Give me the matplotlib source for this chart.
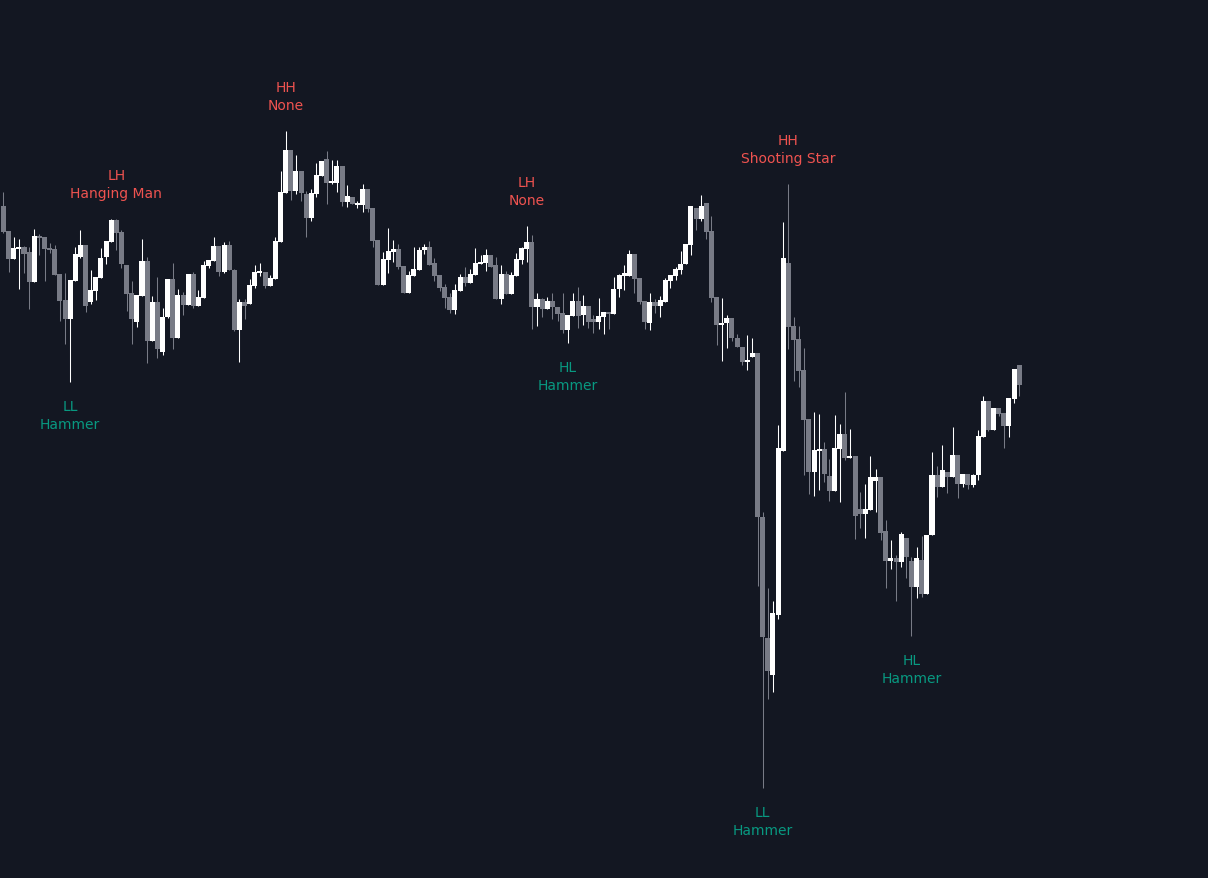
import matplotlib
matplotlib.use("Agg")
import matplotlib.pyplot as plt
import numpy as np

# OHLC, one entry per bar
opens = [794, 769, 741, 751, 753, 748, 718, 764, 763, 752, 751, 726, 700, 681, 719, 743, 755, 698, 709, 722,
         743, 758, 780, 768, 735, 707, 678, 704, 739, 659, 698, 648, 683, 721, 662, 705, 695, 726, 694, 702,
         734, 739, 754, 728, 755, 730, 670, 698, 696, 714, 727, 728, 714, 721, 758, 807, 850, 809, 829, 806,
         782, 806, 824, 841, 817, 817, 834, 798, 803, 795, 795, 811, 792, 760, 715, 740, 748, 751, 734, 707,
         724, 730, 750, 753, 737, 725, 713, 703, 690, 709, 723, 717, 725, 736, 737, 745, 735, 701, 726, 706,
         724, 740, 751, 758, 693, 701, 691, 699, 693, 687, 670, 684, 699, 685, 694, 681, 678, 683, 688, 686,
         711, 724, 724, 746, 722, 699, 677, 698, 694, 698, 719, 724, 730, 736, 755, 792, 781, 797, 769, 703,
         675, 677, 682, 662, 653, 638, 643, 647, 483, 362, 325, 385, 549, 737, 674, 661, 630, 581, 528, 549,
         551, 524, 509, 551, 566, 542, 544, 491, 486, 490, 519, 523, 469, 439, 442, 438, 462, 439, 413, 440,
         406, 465, 525, 513, 528, 523, 545, 516, 526, 515, 525, 563, 599, 570, 592, 587, 574, 601, 635]
highs = [808, 769, 763, 761, 754, 753, 771, 766, 763, 757, 755, 726, 727, 720, 753, 770, 755, 730, 723, 752,
         759, 781, 781, 770, 735, 719, 705, 761, 743, 704, 723, 692, 721, 737, 711, 708, 726, 728, 710, 739,
         740, 763, 754, 758, 759, 731, 701, 701, 721, 735, 737, 728, 725, 763, 829, 869, 850, 845, 829, 809,
         811, 837, 839, 849, 840, 840, 834, 815, 803, 799, 816, 811, 792, 760, 748, 772, 760, 756, 734, 729,
         753, 753, 756, 759, 742, 725, 716, 707, 716, 726, 733, 731, 752, 745, 751, 745, 743, 735, 729, 728,
         747, 753, 774, 765, 707, 702, 703, 707, 693, 707, 685, 707, 713, 705, 694, 685, 702, 688, 688, 723,
         726, 735, 750, 746, 722, 699, 707, 701, 704, 722, 725, 733, 749, 756, 794, 792, 805, 797, 784, 703,
         702, 685, 682, 666, 653, 665, 662, 647, 488, 412, 399, 575, 778, 816, 683, 674, 652, 581, 588, 586,
         558, 541, 585, 576, 608, 571, 544, 508, 516, 544, 531, 523, 480, 460, 445, 468, 462, 443, 453, 464,
         465, 548, 534, 555, 528, 573, 545, 526, 526, 526, 570, 604, 599, 592, 592, 587, 602, 631, 635]
lows = [767, 728, 741, 711, 727, 691, 718, 745, 719, 747, 725, 679, 656, 618, 719, 742, 688, 696, 700, 722,
        736, 758, 750, 732, 689, 656, 673, 704, 637, 659, 642, 645, 682, 651, 662, 685, 695, 692, 694, 702,
        732, 739, 724, 727, 730, 669, 638, 681, 696, 712, 724, 712, 714, 721, 758, 807, 800, 806, 799, 763,
        779, 803, 824, 796, 816, 808, 794, 793, 796, 792, 788, 788, 753, 715, 715, 727, 738, 731, 707, 707,
        724, 730, 746, 735, 719, 709, 692, 687, 686, 709, 714, 717, 725, 736, 729, 733, 701, 696, 706, 706,
        724, 736, 738, 671, 674, 683, 691, 681, 679, 667, 657, 684, 672, 675, 672, 667, 671, 666, 671, 686,
        703, 710, 724, 707, 696, 671, 670, 687, 683, 698, 712, 720, 726, 736, 745, 770, 779, 761, 698, 655,
        639, 652, 659, 653, 635, 630, 643, 414, 212, 301, 308, 381, 549, 651, 619, 613, 525, 506, 504, 510,
        518, 499, 509, 498, 540, 542, 461, 472, 462, 490, 488, 460, 412, 431, 399, 433, 422, 364, 402, 403,
        406, 465, 503, 513, 507, 523, 502, 513, 511, 513, 520, 563, 569, 570, 584, 552, 563, 597, 604]
closes = [768, 741, 752, 753, 746, 718, 764, 762, 751, 750, 725, 699, 681, 720, 746, 755, 694, 710, 723, 742,
          759, 780, 767, 736, 706, 681, 705, 739, 659, 698, 651, 683, 721, 662, 705, 695, 726, 694, 703, 735,
          740, 754, 728, 755, 730, 670, 698, 694, 715, 728, 728, 714, 722, 759, 808, 850, 809, 829, 807, 782,
          807, 825, 839, 817, 818, 834, 798, 804, 796, 796, 811, 791, 759, 715, 741, 749, 751, 733, 707, 725,
          731, 750, 753, 735, 724, 712, 702, 690, 710, 723, 717, 726, 737, 738, 745, 733, 701, 726, 706, 725,
          741, 752, 758, 693, 701, 691, 699, 693, 686, 670, 685, 699, 684, 694, 678, 678, 684, 688, 686, 711,
          725, 727, 746, 721, 698, 678, 698, 694, 700, 720, 725, 731, 736, 756, 794, 781, 794, 768, 702, 675,
          677, 682, 662, 653, 638, 640, 647, 483, 363, 329, 387, 552, 742, 673, 660, 629, 580, 528, 550, 551,
          526, 509, 552, 566, 542, 544, 484, 486, 491, 523, 523, 467, 439, 442, 438, 466, 443, 413, 442, 406,
          465, 525, 513, 530, 523, 545, 516, 526, 515, 525, 564, 599, 570, 592, 586, 574, 602, 631, 615]

# swing labels: bar index, structure, candle pattern
swing_idx = [13, 22, 55, 102, 110, 148, 153, 177]
swing_kind = ["LL", "LH", "HH", "LH", "HL", "LL", "HH", "HL"]
swing_pattern = ["Hammer", "Hanging Man", "None", "None", "Hammer", "Hammer", "Shooting Star", "Hammer"]

BG = "#131722"
UP = "#ffffff"
DOWN = "#787b86"
RED = "#ef5350"
TEAL = "#089981"

o = np.array(opens, float)
h = np.array(highs, float)
l = np.array(lows, float)
c = np.array(closes, float)
x = np.arange(len(o))
up = c >= o
cols = np.where(up, UP, DOWN)

fig = plt.figure(figsize=(12.08, 8.785), dpi=100, facecolor=BG)
ax = fig.add_axes([0, 0, 1, 1])
ax.set_facecolor(BG)

# wicks then bodies
ax.vlines(x, l, h, colors=cols, linewidth=0.75, zorder=2)
bottom = np.minimum(o, c)
height = np.maximum(np.abs(c - o), 1.2)
ax.bar(x, height, bottom=bottom, width=0.98, color=cols, linewidth=0, zorder=3)

for i, kind, pat in zip(swing_idx, swing_kind, swing_pattern):
    if kind in ("HH", "LH"):
        ax.annotate(pat, (i, h[i]), xytext=(0, 25), textcoords="offset pixels",
                    ha="center", va="center", color=RED, fontsize=10)
        ax.annotate(kind, (i, h[i]), xytext=(0, 43), textcoords="offset pixels",
                    ha="center", va="center", color=RED, fontsize=10)
    else:
        ax.annotate(kind, (i, l[i]), xytext=(0, -25), textcoords="offset pixels",
                    ha="center", va="center", color=TEAL, fontsize=10)
        ax.annotate(pat, (i, l[i]), xytext=(0, -43), textcoords="offset pixels",
                    ha="center", va="center", color=TEAL, fontsize=10)

ax.set_xlim(-0.68, 234.8)
ax.set_ylim(122, 1000)
ax.axis("off")

fig.savefig("out.png", dpi=100, facecolor=BG)
